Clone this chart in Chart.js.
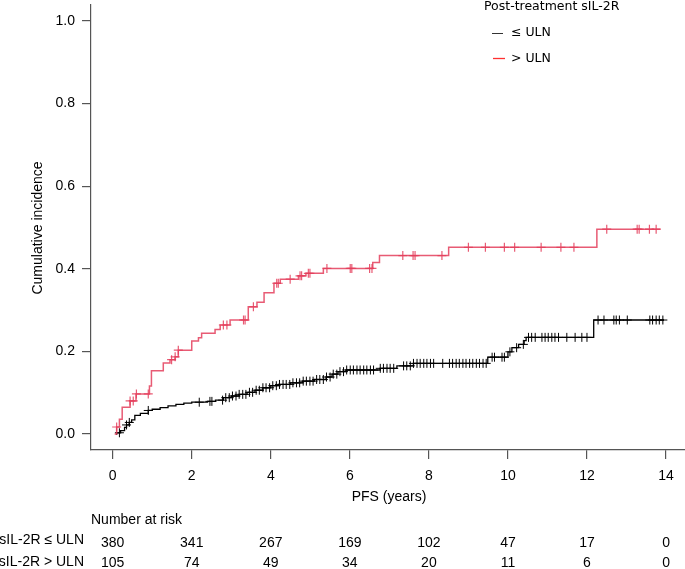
<!DOCTYPE html>
<html>
<head>
<meta charset="utf-8">
<script src="https://cdn.jsdelivr.net/npm/chart.js@4/dist/chart.umd.min.js"></script>
<style>html,body{margin:0;padding:0;background:#fff}</style>
</head>
<body>
<canvas id="c" width="685" height="569" style="width:685px;height:569px"></canvas>
<script>
/* ── Data ── */
// step curves: time (years) and cumulative incidence from that time on
const LOW_T = [0.08, 0.1, 0.2, 0.3, 0.35, 0.42, 0.48, 0.56, 0.7, 0.9, 1.0, 1.2, 1.4, 1.6, 1.8, 2.0, 2.4, 2.6, 2.8, 3.0, 3.2, 3.4, 3.6, 3.8, 4.0, 4.2, 4.5, 4.8, 5.1, 5.4, 5.55, 5.7, 5.9, 6.77, 7.19, 7.61, 9.49, 10.0, 10.1, 10.27, 10.41, 10.46, 12.17, 13.95];
const LOW_V = [0, 0.003, 0.008, 0.016, 0.022, 0.028, 0.034, 0.045, 0.05, 0.057, 0.06, 0.064, 0.068, 0.072, 0.075, 0.077, 0.079, 0.082, 0.088, 0.092, 0.096, 0.101, 0.106, 0.112, 0.117, 0.12, 0.124, 0.128, 0.132, 0.138, 0.145, 0.151, 0.155, 0.159, 0.165, 0.171, 0.186, 0.199, 0.209, 0.217, 0.226, 0.234, 0.276, 0.276];
const HIGH_T = [0.05, 0.1, 0.17, 0.24, 0.44, 0.59, 0.93, 0.98, 1.28, 1.45, 1.58, 1.66, 2.0, 2.17, 2.25, 2.59, 2.72, 2.97, 3.43, 3.65, 3.83, 4.08, 4.24, 4.7, 4.89, 5.33, 6.58, 6.75, 8.5, 12.25, 13.86];
const HIGH_V = [0, 0.017, 0.036, 0.065, 0.08, 0.097, 0.116, 0.153, 0.172, 0.18, 0.187, 0.203, 0.225, 0.233, 0.244, 0.253, 0.264, 0.276, 0.308, 0.319, 0.342, 0.365, 0.375, 0.383, 0.389, 0.401, 0.415, 0.432, 0.452, 0.496, 0.496];

// censoring times
const LOW_CENSOR = [0.17, 0.35, 0.42, 0.9, 2.19, 2.46, 2.51, 2.78, 2.86, 2.95, 3.03, 3.12, 3.2, 3.29, 3.37, 3.46, 3.54, 3.63, 3.71, 3.8, 3.88, 3.97, 4.05, 4.14, 4.22, 4.31, 4.39, 4.48, 4.56, 4.65, 4.73, 4.82, 4.9, 4.99, 5.07, 5.16, 5.24, 5.33, 5.41, 5.5, 5.58, 5.67, 5.75, 5.84, 5.92, 6.01, 6.09, 6.18, 6.26, 6.35, 6.43, 6.52, 6.6, 6.77, 6.85, 6.94, 7.02, 7.11, 7.36, 7.44, 7.53, 7.61, 7.7, 7.78, 7.87, 7.95, 8.04, 8.12, 8.35, 8.52, 8.6, 8.69, 8.77, 8.86, 8.94, 9.03, 9.11, 9.2, 9.28, 9.37, 9.45, 9.6, 9.66, 9.85, 9.91, 10.05, 10.22, 10.39, 10.52, 10.6, 10.69, 10.86, 10.94, 11.02, 11.11, 11.19, 11.28, 11.49, 11.7, 11.87, 12.0, 12.28, 12.43, 12.68, 12.74, 12.82, 13.02, 13.59, 13.66, 13.75, 13.83, 13.92];
const HIGH_CENSOR = [0.1, 0.44, 0.52, 0.6, 0.9, 1.49, 1.58, 1.66, 2.8, 2.89, 3.31, 3.35, 3.56, 4.15, 4.19, 4.49, 4.74, 4.78, 4.95, 4.99, 5.42, 6.01, 6.05, 6.5, 6.56, 7.34, 7.6, 7.65, 8.33, 9.0, 9.43, 9.91, 10.17, 10.84, 11.34, 11.67, 12.5, 13.27, 13.32, 13.58, 13.75];

// number at risk table
const RISK_TIMES = [0, 2, 4, 6, 8, 10, 12, 14];
const RISK_LOW = [380, 341, 267, 169, 102, 47, 17, 0];
const RISK_HIGH = [105, 74, 49, 34, 20, 11, 6, 0];

const X_TICKS = [0, 2, 4, 6, 8, 10, 12, 14];
const Y_TICKS = [0, 0.2, 0.4, 0.6, 0.8, 1.0];

/* ── Helpers ── */
const RED = 'rgba(228,62,92,0.85)';
const BLACK = '#000';
const SANS = "'Liberation Sans', Arial, sans-serif";

function stepPoints(ts, vs) {
  return ts.map((t, i) => ({ x: t, y: vs[i] }));
}
function valueAt(ts, vs, t) {
  let v = vs[0];
  for (let i = 0; i < ts.length; i++) if (ts[i] <= t) v = vs[i];
  return v;
}
function censorPoints(times, ts, vs) {
  return times.map(t => ({ x: t, y: valueAt(ts, vs, t) }));
}

/* ── Annotation plugin: titles, legend, risk table ── */
const extras = {
  id: 'extras',
  afterDraw(chart) {
    const ctx = chart.ctx;
    const xs = chart.scales.x;
    ctx.save();
    ctx.fillStyle = '#000';
    ctx.font = '14px ' + SANS;
    ctx.textBaseline = 'middle';

    // axis titles
    ctx.textAlign = 'center';
    ctx.fillText('PFS (years)', 389, 497);
    ctx.save();
    ctx.translate(38, 228);
    ctx.rotate(-Math.PI / 2);
    ctx.fillText('Cumulative incidence', 0, 0);
    ctx.restore();

    // number at risk
    ctx.textAlign = 'left';
    ctx.fillText('Number at risk', 91, 520);
    ctx.textAlign = 'right';
    ctx.fillText('sIL-2R \u2264 ULN', 84, 540);
    ctx.fillText('sIL-2R > ULN', 84, 562);
    ctx.textAlign = 'center';
    RISK_TIMES.forEach((t, i) => {
      const px = xs.getPixelForValue(t);
      ctx.fillText(String(RISK_LOW[i]), px, 543);
      ctx.fillText(String(RISK_HIGH[i]), px, 563);
    });

    // legend
    ctx.font = "12.5px 'DejaVu Sans', sans-serif";
    ctx.textAlign = 'left';
    ctx.fillText('Post-treatment sIL-2R', 484, 7);
    ctx.fillText('\u2264 ULN', 511, 33);
    ctx.fillText('> ULN', 511, 59);
    ctx.lineWidth = 1;
    ctx.strokeStyle = '#333';
    ctx.beginPath(); ctx.moveTo(492, 33.5); ctx.lineTo(503, 33.5); ctx.stroke();
    ctx.strokeStyle = '#ff3030';
    ctx.lineWidth = 1.3;
    ctx.beginPath(); ctx.moveTo(493, 58.5); ctx.lineTo(505, 58.5); ctx.stroke();
    ctx.restore();
  }
};

/* ── Chart ── */
Chart.defaults.font.family = SANS;
Chart.defaults.font.size = 14;
Chart.defaults.color = '#000';

new Chart(document.getElementById('c'), {
  type: 'line',
  data: {
    datasets: [
      {
        label: '> ULN',
        data: stepPoints(HIGH_T, HIGH_V),
        stepped: 'before',
        borderColor: RED,
        borderWidth: 1.5,
        pointRadius: 0,
        fill: false,
      },
      {
        label: '> ULN censored',
        data: censorPoints(HIGH_CENSOR, HIGH_T, HIGH_V),
        showLine: false,
        pointStyle: 'cross',
        pointRadius: 4.5,
        borderColor: RED,
        borderWidth: 1.2,
      },
      {
        label: '\u2264 ULN',
        data: stepPoints(LOW_T, LOW_V),
        stepped: 'before',
        borderColor: BLACK,
        borderWidth: 1.3,
        pointRadius: 0,
        fill: false,
      },
      {
        label: '\u2264 ULN censored',
        data: censorPoints(LOW_CENSOR, LOW_T, LOW_V),
        showLine: false,
        pointStyle: 'cross',
        pointRadius: 4.5,
        borderColor: BLACK,
        borderWidth: 1,
      },
    ]
  },
  options: {
    responsive: false,
    animation: false,
    layout: { autoPadding: false, padding: { top: 5, left: 0, right: 0, bottom: 0 } },
    plugins: { legend: { display: false }, tooltip: { enabled: false } },
    scales: {
      x: {
        type: 'linear',
        min: -0.549,
        max: 14.48,
        afterBuildTicks: s => { s.ticks = X_TICKS.map(v => ({ value: v })); },
        afterFit: s => { s.height = 119; s.paddingLeft = 0; s.paddingRight = 0; },
        ticks: { padding: 9, maxRotation: 0, autoSkip: false, callback: v => String(v) },
        grid: { drawOnChartArea: false, drawTicks: true, tickLength: 9, color: '#555', lineWidth: 1.2 },
        border: { display: true, color: '#555', width: 1.2 },
      },
      y: {
        type: 'linear',
        min: -0.0387,
        max: 1.0387,
        afterBuildTicks: s => { s.ticks = Y_TICKS.map(v => ({ value: v })); },
        afterFit: s => { s.width = 91; s.paddingTop = 0; s.paddingBottom = 0; },
        ticks: { padding: 7, autoSkip: false, callback: v => v.toFixed(1) },
        grid: { drawOnChartArea: false, drawTicks: true, tickLength: 9, color: '#555', lineWidth: 1.2 },
        border: { display: true, color: '#555', width: 1.2 },
      }
    }
  },
  plugins: [extras]
});
</script>
</body>
</html>
